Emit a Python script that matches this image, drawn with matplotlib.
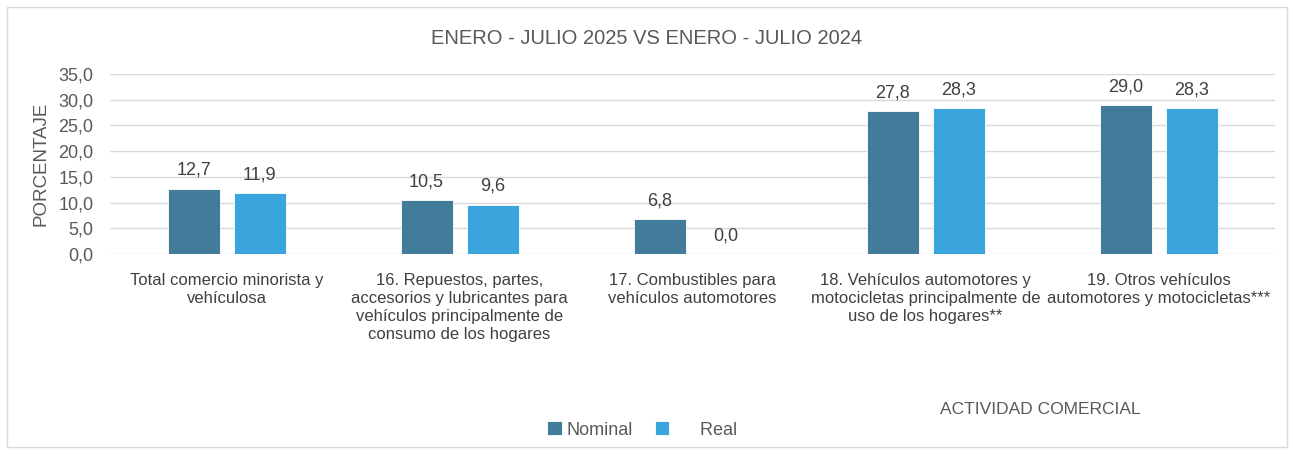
import matplotlib
matplotlib.use("Agg")
import matplotlib.pyplot as plt
from matplotlib import font_manager
import numpy as np

fams = {f.name for f in font_manager.fontManager.ttflist}
FONT = "Liberation Sans Narrow" if "Liberation Sans Narrow" in fams else "Liberation Sans"
plt.rcParams['font.family'] = [FONT, 'DejaVu Sans']

categories = [
    "Total comercio minorista y\nvehículosa",
    "16. Repuestos, partes,\naccesorios y lubricantes para\nvehículos principalmente de\nconsumo de los hogares",
    "17. Combustibles para\nvehículos automotores",
    "18. Vehículos automotores y\nmotocicletas principalmente de\nuso de los hogares**",
    "19. Otros vehículos\nautomotores y motocicletas***",
]
nominal = [12.7, 10.5, 6.8, 27.8, 29.0]
real = [11.9, 9.6, 0.0, 28.3, 28.3]
yticks = [0, 5, 10, 15, 20, 25, 30, 35]

C_NOM = "#437B9B"
C_REAL = "#3AA4DD"
TXT = "#595959"

fig = plt.figure(figsize=(12.93, 4.54), dpi=100)
# border
fig.patches.append(plt.Rectangle((7/1293, 7/454), 1280/1293, 440/454, transform=fig.transFigure,
                                 fill=False, edgecolor="#D9D9D9", linewidth=1))
ax = fig.add_axes([110/1293, 1-254/454, 1165/1293, 180/454])
x = np.arange(len(categories))
w = 52/233
off = 33/233
b1 = ax.bar(x - off, nominal, w, color=C_NOM, edgecolor="white", linewidth=0.6, label="Nominal", zorder=3)
b2 = ax.bar(x + off, real, w, color=C_REAL, edgecolor="white", linewidth=0.6, label="Real", zorder=3)
for bars, vals in ((b1, nominal), (b2, real)):
    for r, v in zip(bars, vals):
        ax.annotate(f"{v:.1f}".replace(".", ","), (r.get_x()+r.get_width()/2, v),
                    xytext=(0, 7), textcoords="offset points", ha="center", va="bottom",
                    fontsize=13, color="#404040")
ax.set_xlim(-0.5, len(categories)-0.5)
ax.set_ylim(0, 35)
ax.set_yticks(yticks)
ax.set_yticklabels([f"{t:.1f}".replace(".", ",") for t in yticks], fontsize=13, color=TXT)
ax.set_xticks(x)
ax.set_xticklabels(categories, fontsize=12, color="#404040", linespacing=1.25)
ax.tick_params(axis="y", length=0, pad=12)
ax.tick_params(axis="x", length=0, pad=14)
ax.grid(axis="y", color="#D9D9D9", linewidth=1, zorder=0)
for s in ax.spines.values():
    s.set_visible(False)
ax.set_ylabel("PORCENTAJE", fontsize=13.5, color=TXT, labelpad=6)
fig.text(0.5, 1-38/454, "ENERO - JULIO 2025 VS ENERO - JULIO 2024", ha="center", va="center",
         fontsize=14.5, color=TXT)
fig.text(1040/1293, 1-409/454, "ACTIVIDAD COMERCIAL", ha="center", va="center", fontsize=12.5, color=TXT)
leg = fig.legend(handles=[b1, b2], labels=["Nominal", "     Real"], loc="center", bbox_to_anchor=(642/1293, 1-430/454),
                 ncol=2, frameon=False, fontsize=13, handlelength=0.8, handleheight=0.8,
                 handletextpad=0.3, columnspacing=1.2)
for t in leg.get_texts():
    t.set_color(TXT)
fig.savefig("out.png", dpi=100)
